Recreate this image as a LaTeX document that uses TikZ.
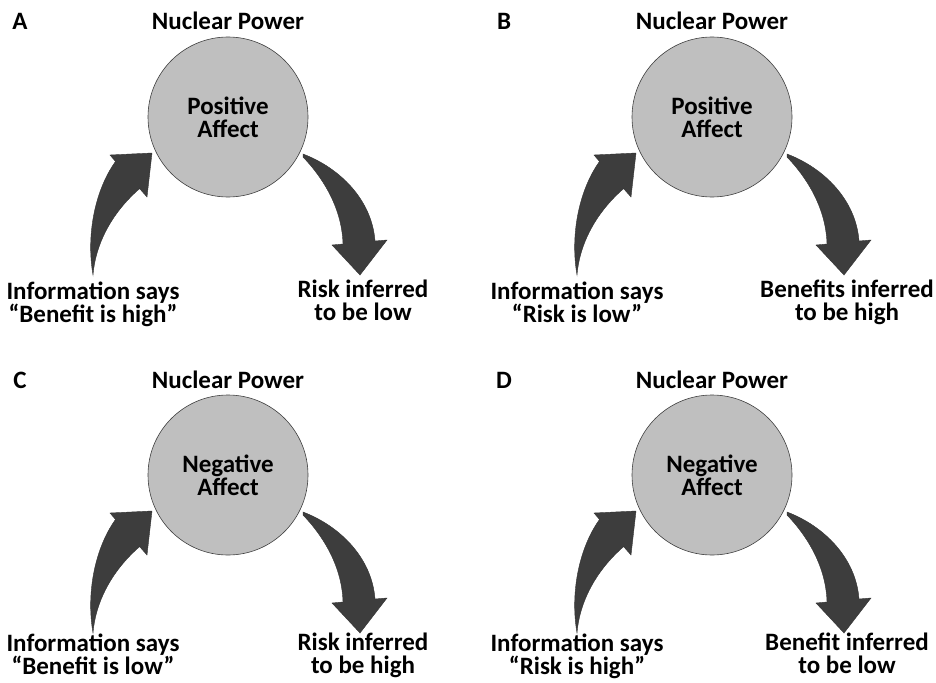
\documentclass[tikz,border=0pt]{standalone}
\usepackage{fontspec}
\setmainfont{Carlito}
\usetikzlibrary{positioning}
\definecolor{affectgray}{HTML}{BFBFBF}
\definecolor{arrowgray}{HTML}{3D3D3D}
\tikzset{every node/.style={align=center}, font=\fontsize{25}{23}\selectfont\bfseries}
\tikzset{
  affect/.style={circle, draw=black!75, line width=0.6pt, fill=affectgray, minimum size=160pt, inner sep=0pt},
  title/.style={anchor=base, inner sep=0pt},
  infoarrow/.pic={
    \filldraw[fill=arrowgray, draw=black!80, line width=0.4pt]
      (-135,158) .. controls (-142,118) and (-133,73) .. (-112.5,44.5)
      -- (-118,38) -- (-76,36) -- (-81,80) -- (-88.4,71.6)
      .. controls (-113,93) and (-132,123) .. (-135,158) -- cycle;
  },
  inferarrow/.pic={
    \filldraw[fill=arrowgray, draw=black!80, line width=0.4pt]
      (75,37) .. controls (112,51) and (144,83) .. (147,124)
      -- (159,123) -- (132,158) -- (104,128) -- (115,127)
      .. controls (114,93) and (97,63) .. (75,40) -- cycle;
  }
}

\begin{document}
\begin{tikzpicture}[x=1pt, y=-1pt]
\useasboundingbox (0,0) rectangle (936,682);

% A
\node [affect] (affA) at (228,117) {Positive\\Affect};
\node [title] (npA) at ([yshift=87pt]affA.center) {Nuclear Power};
\node [title] (tagA) at ([xshift=-208pt,yshift=87pt]affA.center) {A};
\node [title] (infoA) at ([xshift=-135pt,yshift=-205pt]affA.center) {Information says\\“Benefit is high”};
\node [title] (infA) at ([xshift=135pt,yshift=-203pt]affA.center) {Risk inferred\\to be low};
\path (affA.center) pic {infoarrow} pic {inferarrow};

% B
\node [affect] (affB) at (712,117) {Positive\\Affect};
\node [title] (npB) at ([yshift=87pt]affB.center) {Nuclear Power};
\node [title] (tagB) at ([xshift=-208pt,yshift=87pt]affB.center) {B};
\node [title] (infoB) at ([xshift=-135pt,yshift=-205pt]affB.center) {Information says\\“Risk is low”};
\node [title] (infB) at ([xshift=135pt,yshift=-203pt]affB.center) {Benefits inferred\\to be high};
\path (affB.center) pic {infoarrow} pic {inferarrow};

% C -- labels lifted a little so they stay on the page
\node [affect] (affC) at (228,475) {Negative\\Affect};
\node [title] (npC) at ([yshift=87pt]affC.center) {Nuclear Power};
\node [title] (tagC) at ([xshift=-208pt,yshift=87pt]affC.center) {C};
\node [title] (infoC) at ([xshift=-135pt,yshift=-199pt]affC.center) {Information says\\“Benefit is low”};
\node [title] (infC) at ([xshift=135pt,yshift=-198pt]affC.center) {Risk inferred\\to be high};
\path (affC.center) pic {infoarrow} pic {inferarrow};

% D
\node [affect] (affD) at (712,475) {Negative\\Affect};
\node [title] (npD) at ([yshift=87pt]affD.center) {Nuclear Power};
\node [title] (tagD) at ([xshift=-208pt,yshift=87pt]affD.center) {D};
\node [title] (infoD) at ([xshift=-135pt,yshift=-199pt]affD.center) {Information says\\“Risk is high”};
\node [title] (infD) at ([xshift=135pt,yshift=-198pt]affD.center) {Benefit inferred\\to be low};
\path (affD.center) pic {infoarrow} pic {inferarrow};
\end{tikzpicture}
\end{document}
